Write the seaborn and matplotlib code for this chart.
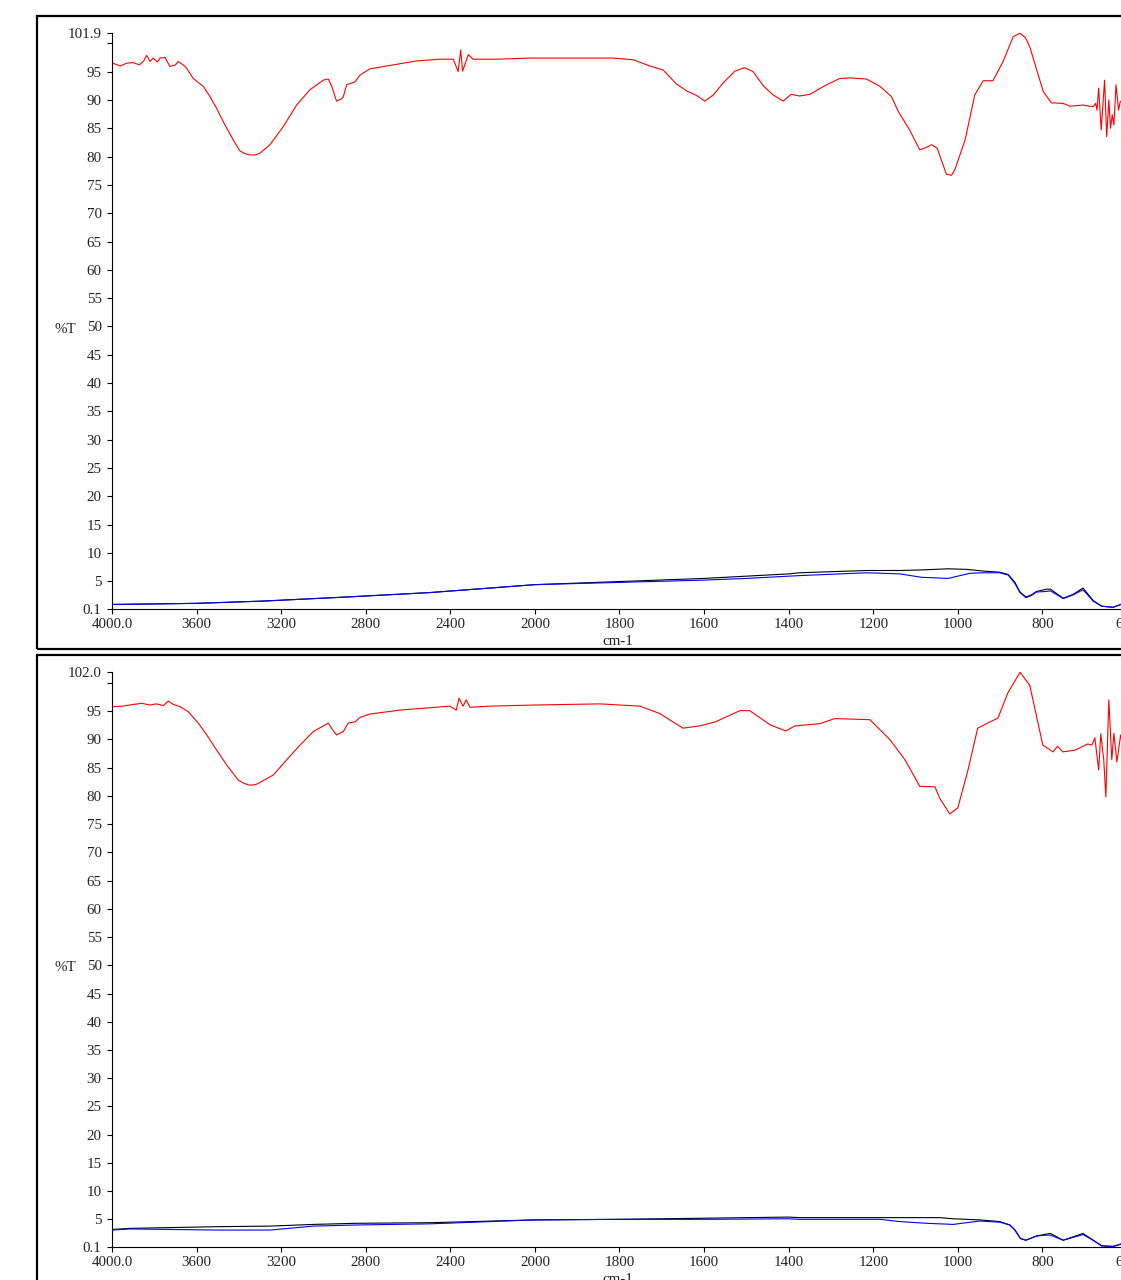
import numpy as np
import pandas as pd
import matplotlib
matplotlib.use("Agg")
import matplotlib.pyplot as plt
from matplotlib.patches import Rectangle
import seaborn as sns

sns.set_style("white")
plt.rcParams['font.family'] = ['Liberation Serif', 'DejaVu Serif']

# ---------------- data (wavenumber cm-1, %T) ----------------
top_red_wn = [4000, 3997, 3960, 3930, 3900, 3870, 3850, 3836, 3820, 3805, 3785, 3773, 3749, 3726,
              3700, 3687, 3660, 3647, 3616, 3568, 3537, 3505, 3466, 3426, 3395, 3370, 3348, 3320, 3300, 3253,
              3190, 3127, 3064, 3001, 2977, 2961, 2938, 2914, 2906, 2890, 2851, 2827, 2780, 2686,
              2559, 2449, 2386, 2363, 2351, 2342, 2315, 2292, 2181, 2024, 1894, 1815, 1767, 1728,
              1697, 1665, 1641, 1618, 1598, 1578, 1555, 1527, 1504, 1484, 1460, 1437, 1413, 1394,
              1374, 1350, 1310, 1279, 1255, 1216, 1184, 1157, 1141, 1114, 1090, 1075, 1062, 1049, 1027,
              1015, 1007, 983, 960, 940, 917, 893, 869, 853, 840, 830, 798, 779, 751, 735, 704, 680, 674,
              671, 667, 661, 653, 648, 643, 639, 635, 631, 626, 620, 616, 610, 605, 600]
top_red_t = [96.3, 96.5, 96.0, 96.5, 96.6, 96.2, 96.9, 97.9, 96.8, 97.4, 96.7, 97.4, 97.5, 95.9,
             96.2, 96.8, 96.1, 95.6, 93.8, 92.4, 90.6, 88.5, 85.6, 82.9, 81.0, 80.5, 80.3, 80.3, 80.6, 82.1,
             85.3, 89.1, 91.8, 93.5, 93.7, 92.4, 89.8, 90.2, 90.6, 92.7, 93.2, 94.4, 95.5, 96.1,
             96.9, 97.2, 97.2, 95.0, 98.8, 95.1, 98.0, 97.2, 97.2, 97.4, 97.4, 97.4, 97.1, 96.0,
             95.3, 92.8, 91.6, 90.8, 89.8, 90.9, 93.0, 95.1, 95.7, 95.0, 92.5, 90.9, 89.8, 91.0,
             90.7, 91.0, 92.7, 93.8, 93.9, 93.7, 92.4, 90.6, 88.0, 84.7, 81.2, 81.6, 82.1, 81.5, 76.9,
             76.7, 77.7, 82.9, 90.9, 93.4, 93.4, 96.8, 101.2, 101.8, 101.0, 99.4, 91.5, 89.5, 89.4, 88.9, 89.1, 88.8, 89.4,
             88.2, 92.1, 84.7, 93.5, 83.5, 90.0, 85.0, 87.4, 85.6, 92.7, 88.2, 89.7, 90.0, 88.0, 89.0]

top_black_wn = [4000, 3600, 3285, 2900, 2497, 2000, 1800, 1600, 1500, 1400, 1374, 1216, 1137, 1086,
                1023, 980, 940, 901, 881, 865, 853, 839, 826, 814, 790, 781, 751, 727, 704, 680,
                660, 633, 615, 600]
top_black_t = [0.9, 1.1, 1.5, 2.2, 3.0, 4.4, 4.95, 5.5, 5.9, 6.3, 6.5, 6.9, 6.9, 7.0,
               7.2, 7.1, 6.8, 6.6, 6.2, 4.8, 3.1, 2.2, 2.6, 3.2, 3.6, 3.6, 2.0, 2.7, 3.8, 1.6,
               0.6, 0.4, 0.9, 1.3]
top_blue_wn = [4000, 3600, 3285, 2900, 2497, 2000, 1800, 1600, 1500, 1400, 1374, 1216, 1137, 1086,
               1023, 972, 940, 901, 881, 865, 853, 839, 826, 814, 790, 781, 751, 727, 704, 680,
               660, 633, 615, 600]
top_blue_t = [0.9, 1.1, 1.5, 2.2, 3.0, 4.4, 4.8, 5.2, 5.5, 5.9, 6.0, 6.5, 6.3, 5.7,
              5.5, 6.4, 6.5, 6.5, 6.1, 4.6, 3.0, 2.1, 2.5, 3.1, 3.2, 3.3, 1.95, 2.6, 3.5, 1.5,
              0.6, 0.4, 0.9, 1.3]

bot_red_wn = [4000, 3997, 3950, 3899, 3860, 3820, 3790, 3757, 3734, 3710, 3678, 3639, 3592, 3552,
              3505, 3458, 3403, 3375, 3348, 3320, 3300, 3237, 3174, 3111, 3048, 2977, 2957, 2938, 2906, 2883,
              2851, 2827, 2780, 2638, 2402, 2372, 2359, 2340, 2325, 2307, 2213, 2000, 1846, 1752,
              1705, 1650, 1610, 1574, 1515, 1492, 1444, 1407, 1385, 1326, 1291, 1208, 1161, 1125,
              1090, 1054, 1043, 1019, 1000, 976, 953, 924, 905, 882, 853, 830, 799, 775, 764, 752,
              723, 693, 683, 676, 667, 662, 655, 650, 643, 636, 631, 624, 615, 608, 600]
bot_red_t = [95.6, 95.8, 95.9, 96.2, 96.4, 96.1, 96.3, 96.0, 96.8, 96.2, 95.8, 94.9, 92.9, 90.8,
             88.1, 85.5, 82.8, 82.2, 81.9, 82.0, 82.4, 83.7, 86.4, 89.0, 91.4, 92.9, 91.7, 90.8, 91.4, 92.9,
             93.1, 93.9, 94.5, 95.2, 95.9, 95.2, 97.3, 95.9, 97.0, 95.7, 95.9, 96.1, 96.3, 95.9,
             94.6, 92.0, 92.4, 93.1, 95.1, 95.1, 92.6, 91.5, 92.4, 92.8, 93.7, 93.5, 90.0, 86.4,
             81.7, 81.6, 79.6, 76.8, 77.9, 84.6, 92.0, 93.1, 93.8, 98.2, 101.9, 99.6, 89.0, 87.8, 88.8, 87.8,
             88.1, 89.2, 89.0, 90.3, 84.6, 91.0, 86.4, 79.8, 97.0, 86.4, 91.1, 86.0, 90.8, 88.0, 89.5]

bot_black_wn = [4000, 3915, 3505, 3253, 3048, 2843, 2497, 2000, 1800, 1600, 1400, 1374, 1137, 1043,
                1011, 980, 948, 901, 877, 865, 852, 839, 814, 790, 781, 751, 704, 680, 660, 633,
                615, 600]
bot_black_t = [3.2, 3.4, 3.7, 3.8, 4.1, 4.3, 4.4, 4.9, 5.0, 5.2, 5.4, 5.3, 5.3, 5.3,
               5.1, 5.0, 4.9, 4.6, 4.0, 3.1, 1.6, 1.3, 2.05, 2.4, 2.5, 1.3, 2.5, 1.3, 0.3, 0.2,
               0.6, 0.9]
bot_blue_wn = [4000, 3915, 3505, 3253, 3048, 2843, 2497, 2000, 1800, 1600, 1400, 1374, 1184, 1137,
               1074, 1011, 980, 948, 901, 877, 865, 852, 839, 814, 790, 781, 751, 704, 680, 660,
               633, 615, 600]
bot_blue_t = [3.1, 3.3, 3.1, 3.1, 3.8, 4.0, 4.2, 4.9, 5.0, 5.0, 5.1, 5.0, 5.0, 4.6,
              4.3, 4.1, 4.4, 4.7, 4.5, 4.0, 3.1, 1.6, 1.3, 2.05, 2.2, 2.2, 1.3, 2.3, 1.3, 0.3,
              0.2, 0.6, 0.9]

x_ticks = [4000, 3600, 3200, 2800, 2400, 2000, 1800, 1600, 1400, 1200, 1000, 800, 600]
x_labels = ["4000.0", "3600", "3200", "2800", "2400", "2000", "1800", "1600", "1400",
            "1200", "1000", "800", "600"]
y_ticks_top = [0.1, 5, 10, 15, 20, 25, 30, 35, 40, 45, 50, 55, 60, 65, 70, 75, 80, 85, 90, 95, 100, 101.9]
y_labels_top = ["0.1"] + [str(v) for v in range(5, 100, 5)] + ["", "101.9"]
y_ticks_bot = [0.1, 5, 10, 15, 20, 25, 30, 35, 40, 45, 50, 55, 60, 65, 70, 75, 80, 85, 90, 95, 100, 102.0]
y_labels_bot = ["0.1"] + [str(v) for v in range(5, 100, 5)] + ["", "102.0"]


# piecewise wavenumber scale (compressed above 2000 cm-1)
def fwd(w):
    w = np.asarray(w, dtype=float)
    return np.where(w <= 2000, w, 2000 + (w - 2000) / 2.0)


def inv(p):
    p = np.asarray(p, dtype=float)
    return np.where(p <= 2000, p, 2000 + (p - 2000) * 2.0)


W, H = 1121, 1280
fig = plt.figure(figsize=(W / 100, H / 100), dpi=100)


def make_panel(rect, red, black, blue, yticks, ylabels, ytop):
    ax = fig.add_axes(rect)
    ax.set_xscale('function', functions=(fwd, inv))
    for (wn, t), col, lw in [(black, 'black', 0.8), (blue, '#0000ff', 0.8), (red, '#ff0000', 0.8)]:
        df = pd.DataFrame({'wn': wn, 't': t})
        sns.lineplot(data=df, x='wn', y='t', ax=ax, color=col, lw=lw, sort=False,
                     estimator=None)
    ax.set_xlim(4000, 600)
    ax.set_ylim(0.1, ytop)
    ax.set_xticks(x_ticks)
    ax.set_xticklabels(x_labels)
    ax.xaxis.set_minor_locator(matplotlib.ticker.NullLocator())
    ax.set_yticks(yticks)
    ax.set_yticklabels(ylabels)
    ax.tick_params(axis='both', direction='out', length=3.5, width=0.8, labelsize=10.8,
                   color='black', labelcolor='#222222', bottom=True, left=True)
    ax.tick_params(axis='x', pad=3)
    ax.tick_params(axis='y', pad=4)
    for s in ['top', 'right']:
        ax.spines[s].set_visible(False)
    for s in ['left', 'bottom']:
        ax.spines[s].set_linewidth(0.8)
        ax.spines[s].set_color('black')
    ax.set_xlabel('cm-1', fontsize=10.8, color='#222222')
    ax.xaxis.set_label_coords(0.4985, -0.045)
    ax.set_ylabel('%T', rotation=0, fontsize=10.8, color='#222222')
    ax.yaxis.set_label_coords(-0.046, 0.474)
    ax.patch.set_alpha(0)
    return ax


make_panel([112 / W, 1 - 609 / H, (1127 - 112) / W, (609 - 32.6) / H],
           (top_red_wn, top_red_t), (top_black_wn, top_black_t), (top_blue_wn, top_blue_t),
           y_ticks_top, y_labels_top, 101.9)
make_panel([112 / W, 1 - 1247 / H, (1127 - 112) / W, (1247 - 671.7) / H],
           (bot_red_wn, bot_red_t), (bot_black_wn, bot_black_t), (bot_blue_wn, bot_blue_t),
           y_ticks_bot, y_labels_bot, 102.0)

# panel frames
fig.add_artist(Rectangle((37 / W, 1 - 649 / H), 1.2, (649 - 16) / H, transform=fig.transFigure,
                         fill=False, lw=1.6, edgecolor='black', clip_on=False))
fig.add_artist(Rectangle((37 / W, -0.2), 1.2, 0.2 + 1 - 655 / H, transform=fig.transFigure,
                         fill=False, lw=1.6, edgecolor='black', clip_on=False))

fig.savefig('out.png', dpi=100)
